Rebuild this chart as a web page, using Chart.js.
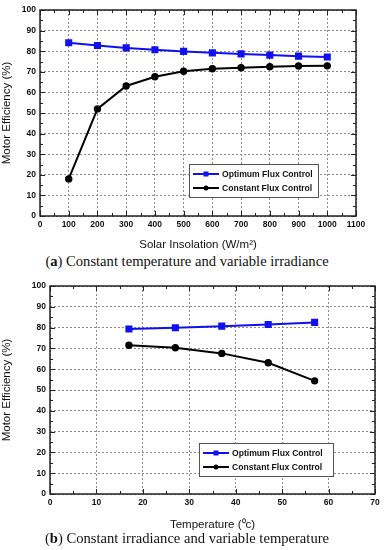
<!DOCTYPE html>
<html>
<head>
<meta charset="utf-8">
<script src="https://cdn.jsdelivr.net/npm/chart.js@4/dist/chart.umd.min.js"></script>
<style>
  body { margin: 0; background: #fff; width: 384px; height: 550px; position: relative; overflow: hidden; }
  canvas { position: absolute; left: 0; }
  .cap { position: absolute; left: 0; width: 374px; text-align: center; font-family: "Liberation Serif", "DejaVu Serif", serif; font-size: 14.6px; color: #111; }
</style>
</head>
<body>
<canvas id="chartA" width="384" height="252" style="top:0"></canvas>
<div class="cap" style="top:253px">(<b>a</b>) Constant temperature and variable irradiance</div>
<canvas id="chartB" width="384" height="262" style="top:270px"></canvas>
<div class="cap" style="top:530px">(<b>b</b>) Constant irradiance and variable temperature</div>
<script>
// (a) solar insolation sweep
var irradiance = [100, 200, 300, 400, 500, 600, 700, 800, 900, 1000];
var optimumA = [84.1, 82.8, 81.6, 80.7, 79.9, 79.2, 78.7, 78.1, 77.6, 77.2];
var constantA = [18, 52, 63.1, 67.6, 70.3, 71.5, 72, 72.5, 72.8, 72.9];

// (b) temperature sweep
var temperature = [17, 27, 37, 47, 57];
var optimumB = [79.3, 79.9, 80.7, 81.5, 82.5];
var constantB = [71.5, 70.3, 67.6, 63.1, 54.4];

var seriesNames = ['Optimum Flux Control', 'Constant Flux Control'];

Chart.defaults.font.family = '"Liberation Sans", Arial, sans-serif';
Chart.defaults.color = '#111';

function pts(xs, ys) {
    return xs.map(function(x, i) { return { x: x, y: ys[i] }; });
}

// frame plus inward major/minor ticks on all four sides
var frameTicks = {
    id: 'frameTicks',
    afterDraw: function(chart) {
        var ctx = chart.ctx, a = chart.chartArea;
        var xs = chart.scales.x, ys = chart.scales.y;
        var minorX = chart.options.plugins.frameTicks.minorX;
        ctx.save();
        ctx.strokeStyle = '#222';
        ctx.lineWidth = 1;
        var v, p, len;
        for (v = xs.min; v <= xs.max + 1e-9; v += minorX) {
            p = Math.round(xs.getPixelForValue(v)) + 0.5;
            len = (Math.round(v / minorX) % 2 === 0) ? 5 : 3;
            ctx.beginPath();
            ctx.moveTo(p, a.bottom); ctx.lineTo(p, a.bottom - len);
            ctx.moveTo(p, a.top); ctx.lineTo(p, a.top + len);
            ctx.stroke();
        }
        for (v = ys.min; v <= ys.max + 1e-9; v += 5) {
            p = Math.round(ys.getPixelForValue(v)) + 0.5;
            len = (Math.round(v / 5) % 2 === 0) ? 5 : 3;
            ctx.beginPath();
            ctx.moveTo(a.left, p); ctx.lineTo(a.left + len, p);
            ctx.moveTo(a.right, p); ctx.lineTo(a.right - len, p);
            ctx.stroke();
        }
        ctx.lineWidth = 1.5;
        ctx.strokeRect(a.left, a.top, a.right - a.left, a.bottom - a.top);
        ctx.restore();
    }
};

// boxed legend inside the plot
var boxLegend = {
    id: 'boxLegend',
    afterDraw: function(chart) {
        var o = chart.options.plugins.boxLegend;
        var ctx = chart.ctx;
        ctx.save();
        ctx.fillStyle = '#fff';
        ctx.fillRect(o.x, o.y, o.w, o.h);
        ctx.strokeStyle = '#555';
        ctx.lineWidth = 1;
        ctx.strokeRect(o.x + 0.5, o.y + 0.5, o.w, o.h);
        chart.data.datasets.forEach(function(ds, i) {
            var cy = o.y + 10 + i * 14;
            var x0 = o.x + 4, x1 = o.x + 30;
            ctx.strokeStyle = ds.borderColor;
            ctx.lineWidth = 2;
            ctx.beginPath(); ctx.moveTo(x0, cy); ctx.lineTo(x1, cy); ctx.stroke();
            ctx.fillStyle = ds.borderColor;
            var mx = (x0 + x1) / 2;
            if (ds.pointStyle === 'rect') {
                ctx.fillRect(mx - 2.5, cy - 2.5, 5, 5);
            } else {
                ctx.beginPath(); ctx.arc(mx, cy, 2.5, 0, Math.PI * 2); ctx.fill();
            }
            ctx.fillStyle = '#111';
            ctx.font = 'bold 8.6px "Liberation Sans", Arial, sans-serif';
            ctx.textBaseline = 'middle';
            ctx.fillText(ds.label, x1 + 3, cy + 0.5);
        });
        ctx.restore();
    }
};

function makeChart(id, xs, opt, cons, xMax, xStep, xTitle, yWidth, xHeight, pad, legendBox) {
    return new Chart(document.getElementById(id).getContext('2d'), {
        type: 'line',
        data: {
            datasets: [{
                label: seriesNames[0],
                data: pts(xs, opt),
                borderColor: '#1010f0',
                backgroundColor: '#1010f0',
                borderWidth: 2,
                pointStyle: 'rect',
                pointRadius: 3.6,
                tension: 0
            }, {
                label: seriesNames[1],
                data: pts(xs, cons),
                borderColor: '#000',
                backgroundColor: '#000',
                borderWidth: 2,
                pointStyle: 'circle',
                pointRadius: 2.7,
                tension: 0
            }]
        },
        options: {
            responsive: false,
            animation: false,
            layout: { padding: pad },
            plugins: {
                legend: { display: false },
                tooltip: { enabled: false },
                frameTicks: { minorX: xStep / 2 },
                boxLegend: legendBox
            },
            scales: {
                x: {
                    type: 'linear',
                    min: 0, max: xMax,
                    grid: { color: '#8a8a8a', drawTicks: false },
                    border: { display: false, dash: [2, 2] },
                    ticks: { stepSize: xStep, padding: 4, font: { size: 8.5, weight: 'bold' },
                             callback: function(v) { return String(v); } },
                    title: { display: true, text: xTitle, font: { size: 11.5 }, padding: { top: 4, bottom: 0 } },
                    afterFit: function(s) { s.height = xHeight; }
                },
                y: {
                    min: 0, max: 100,
                    grid: { color: '#8a8a8a', drawTicks: false },
                    border: { display: false, dash: [2, 2] },
                    ticks: { stepSize: 10, padding: 4, font: { size: 8.5, weight: 'bold' },
                             callback: function(v) { return String(v); } },
                    title: { display: true, text: 'Motor Efficiency (%)', font: { size: 11.5 }, padding: { top: 0, bottom: 2 } },
                    afterFit: function(s) { s.width = yWidth; }
                }
            }
        },
        plugins: [frameTicks, boxLegend]
    });
}

makeChart('chartA', irradiance, optimumA, constantA, 1100, 100,
    'Solar Insolation (W/m\u00B2)', 40, 36, { top: 10, right: 28, left: 0, bottom: 0 },
    { x: 189, y: 164, w: 129, h: 33 });

makeChart('chartB', temperature, optimumB, constantB, 70, 10,
    'Temperature (\u2070c)', 50, 38, { top: 16, right: 9, left: 0, bottom: 0 },
    { x: 199, y: 173, w: 134, h: 33 });
</script>
</body>
</html>
